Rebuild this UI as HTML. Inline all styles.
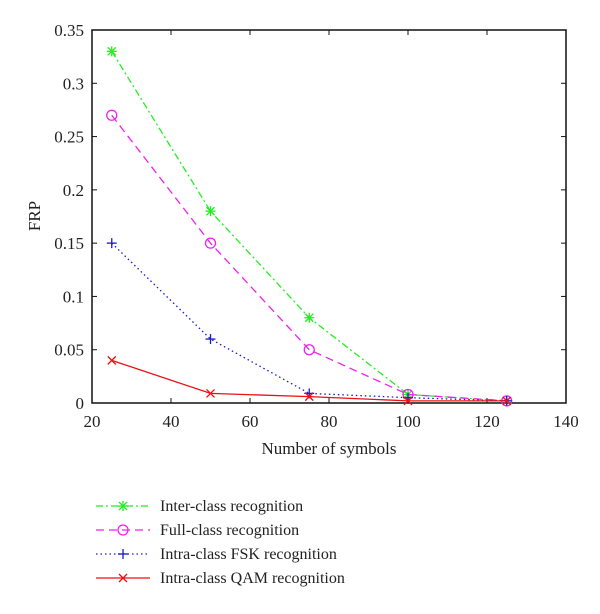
<!DOCTYPE html>
<html><head><meta charset="utf-8"><style>
body{margin:0;background:#fff;}
svg text{font-family:"Liberation Serif",serif;fill:#222;}
</style></head><body>
<svg id="chart" width="600" height="609" viewBox="0 0 600 609" xmlns="http://www.w3.org/2000/svg"></svg>
<script>
const xValues=[25,50,75,100,125];
const interClass=[0.33,0.18,0.08,0.008,0.002];
const fullClass=[0.27,0.15,0.05,0.008,0.002];
const fskClass=[0.15,0.06,0.009,0.005,0.002];
const qamClass=[0.04,0.009,0.006,0.002,0.002];
const xTicks=[20,40,60,80,100,120,140];
const yTicks=[0,0.05,0.1,0.15,0.2,0.25,0.3,0.35];
const yTickLabels=["0","0.05","0.1","0.15","0.2","0.25","0.3","0.35"];
const seriesNames=["Inter-class recognition","Full-class recognition","Intra-class FSK recognition","Intra-class QAM recognition"];

const L=92,R=566,T=30,B=403;
const xs=v=>L+(v-20)/120*(R-L);
const ys=v=>B-v/0.35*(B-T);
const svg=document.getElementById('chart');
const NS="http://www.w3.org/2000/svg";
function mk(tag,attrs,parent){const e=document.createElementNS(NS,tag);for(const k in attrs)e.setAttribute(k,attrs[k]);(parent||svg).appendChild(e);return e;}

const frame=mk('rect',{x:L,y:T,width:R-L,height:B-T,fill:'none',stroke:'#111','stroke-width':1.5});



xTicks.forEach(t=>{
  const x=xs(t);
  mk('line',{x1:x,y1:B,x2:x,y2:B-5,stroke:'#111'});
  mk('line',{x1:x,y1:T,x2:x,y2:T+5,stroke:'#111'});
  const tx=mk('text',{x:x,y:B+24,'text-anchor':'middle','font-size':17});
  tx.textContent=t;
  
  
});
yTicks.forEach((t,i)=>{
  const y=ys(t);
  mk('line',{x1:L,y1:y,x2:L+5,y2:y,stroke:'#111'});
  mk('line',{x1:R,y1:y,x2:R-5,y2:y,stroke:'#111'});
  const tx=mk('text',{x:L-8,y:y+6,'text-anchor':'end','font-size':17});
  tx.textContent=yTickLabels[i];
  
  
});
const xt=mk('text',{x:329,y:454,'text-anchor':'middle','font-size':17});
xt.textContent='Number of symbols';


const yt=mk('text',{x:40,y:216,'text-anchor':'middle','font-size':17,transform:'rotate(-90 40 216)'});
yt.textContent='FRP';



function marker(type,x,y,c,g){
  const s=5;
  if(type==='star'){
    mk('line',{x1:x-s,y1:y,x2:x+s,y2:y,stroke:c,'stroke-width':1.3},g);
    mk('line',{x1:x,y1:y-s,x2:x,y2:y+s,stroke:c,'stroke-width':1.3},g);
    mk('line',{x1:x-4,y1:y-4,x2:x+4,y2:y+4,stroke:c,'stroke-width':1.3},g);
    mk('line',{x1:x-4,y1:y+4,x2:x+4,y2:y-4,stroke:c,'stroke-width':1.3},g);
  }else if(type==='circle'){
    mk('circle',{cx:x,cy:y,r:5,fill:'none',stroke:c,'stroke-width':1.3},g);
  }else if(type==='plus'){
    mk('line',{x1:x-s,y1:y,x2:x+s,y2:y,stroke:c,'stroke-width':1.3},g);
    mk('line',{x1:x,y1:y-s,x2:x,y2:y+s,stroke:c,'stroke-width':1.3},g);
  }else{
    mk('line',{x1:x-4,y1:y-4,x2:x+4,y2:y+4,stroke:c,'stroke-width':1.3},g);
    mk('line',{x1:x-4,y1:y+4,x2:x+4,y2:y-4,stroke:c,'stroke-width':1.3},g);
  }
}
const series=[
  {data:interClass,c:'#22ee22',dash:'7 3 2 3',m:'star',name:'inter-class-series'},
  {data:fullClass,c:'#ee22ee',dash:'8 5',m:'circle',name:'full-class-series'},
  {data:fskClass,c:'#1a1acc',dash:'1.5 3',m:'plus',name:'fsk-series'},
  {data:qamClass,c:'#ee1111',dash:'',m:'x',name:'qam-series'}
];
series.forEach((s,si)=>{
  const g=mk('g',{});
  
  
  const pts=s.data.map((v,i)=>xs(xValues[i])+','+ys(v)).join(' ');
  mk('polyline',{points:pts,fill:'none',stroke:s.c,'stroke-width':1.3,'stroke-dasharray':s.dash},g);
  s.data.forEach((v,i)=>marker(s.m,xs(xValues[i]),ys(v),s.c,g));
  const ly=506+si*24;
  const lg=mk('g',{});
  
  
  mk('line',{x1:96,y1:ly,x2:150,y2:ly,stroke:s.c,'stroke-width':1.3,'stroke-dasharray':s.dash},lg);
  marker(s.m,123,ly,s.c,lg);
  const t=mk('text',{x:160,y:ly+5,'font-size':16},lg);
  t.textContent=seriesNames[si];
});
</script>
</body></html>
